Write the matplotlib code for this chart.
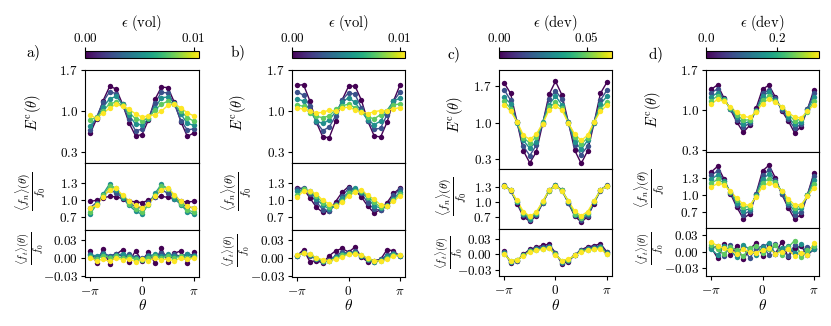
import numpy as np
import matplotlib
matplotlib.use("Agg")
import matplotlib.pyplot as plt
from matplotlib.colors import Normalize
from matplotlib.cm import ScalarMappable

plt.rcParams['mathtext.fontset'] = 'cm'
plt.rcParams['font.family'] = 'serif'
plt.rcParams['font.serif'] = ['DejaVu Serif']
plt.rcParams['axes.linewidth'] = 0.8

# ---------------- data ----------------
theta_deg = [-180, -157.5, -135, -112.5, -90, -67.5, -45, -22.5, 0,
             22.5, 45, 67.5, 90, 112.5, 135, 157.5, 180]

eps_a = [0.0, 0.0026, 0.0052, 0.0079, 0.0105]
eps_b = [0.0, 0.0026, 0.0052, 0.0079, 0.0105]
eps_c = [0.0, 0.016, 0.032, 0.048, 0.0644]
eps_d = [0.0, 0.08, 0.16, 0.24, 0.319]

a_E = [
    [0.62, 0.87, 1.18, 1.42, 1.38, 1.12, 0.80, 0.58, 0.60, 0.85, 1.20, 1.41, 1.40, 1.15, 0.82, 0.57, 0.63],
    [0.68, 0.90, 1.16, 1.33, 1.30, 1.10, 0.86, 0.67, 0.69, 0.88, 1.14, 1.32, 1.31, 1.12, 0.84, 0.68, 0.70],
    [0.75, 0.88, 1.07, 1.21, 1.25, 1.12, 0.93, 0.78, 0.77, 0.86, 1.05, 1.23, 1.24, 1.14, 0.95, 0.79, 0.76],
    [0.85, 0.90, 1.00, 1.13, 1.15, 1.10, 0.98, 0.87, 0.84, 0.88, 1.02, 1.12, 1.17, 1.12, 1.00, 0.89, 0.83],
    [0.93, 0.88, 0.97, 1.05, 1.12, 1.08, 1.04, 0.95, 0.90, 0.92, 0.94, 1.00, 1.10, 1.12, 1.06, 0.97, 0.92],
]
a_n = [
    [0.97, 0.99, 1.03, 1.06, 1.05, 1.02, 0.98, 0.96, 0.95, 0.99, 1.04, 1.06, 1.04, 1.02, 0.97, 0.96, 0.97],
    [0.86, 0.95, 1.06, 1.17, 1.12, 1.03, 0.94, 0.88, 0.85, 0.96, 1.05, 1.18, 1.11, 1.04, 0.93, 0.87, 0.86],
    [0.75, 0.92, 1.10, 1.28, 1.18, 1.03, 0.90, 0.80, 0.74, 0.93, 1.11, 1.27, 1.19, 1.02, 0.91, 0.79, 0.74],
    [0.78, 0.92, 1.08, 1.24, 1.20, 1.06, 0.93, 0.83, 0.79, 0.91, 1.09, 1.25, 1.19, 1.07, 0.92, 0.82, 0.78],
    [0.86, 0.90, 1.05, 1.18, 1.20, 1.08, 0.98, 0.90, 0.86, 0.92, 1.06, 1.17, 1.21, 1.09, 0.97, 0.89, 0.85],
]
a_t = [
    [0.012, -0.008, 0.015, -0.010, 0.006, 0.014, -0.006, 0.012, -0.004, 0.010, -0.008, 0.016, -0.006, 0.008, 0.012, -0.008, 0.010],
    [0.006, 0.002, 0.008, 0.004, 0.007, 0.003, 0.006, 0.002, 0.000, 0.005, 0.002, 0.008, 0.004, 0.006, 0.003, 0.007, 0.005],
    [0.005, 0.004, 0.006, 0.002, 0.005, 0.007, 0.003, 0.001, -0.002, 0.004, 0.006, 0.003, 0.006, 0.004, 0.002, 0.006, 0.004],
    [0.002, -0.001, 0.004, 0.001, 0.003, 0.000, 0.002, -0.002, -0.003, 0.001, 0.003, 0.000, 0.004, 0.001, 0.003, 0.000, 0.002],
    [0.000, -0.004, -0.002, -0.005, 0.001, -0.003, -0.001, -0.006, -0.002, -0.004, 0.000, -0.003, -0.001, -0.005, 0.001, -0.002, 0.000],
]

b_E = [
    [1.44, 1.45, 1.17, 0.81, 0.56, 0.55, 0.83, 1.19, 1.42, 1.43, 1.19, 0.83, 0.58, 0.56, 0.81, 1.17, 1.44],
    [1.33, 1.27, 1.08, 0.81, 0.67, 0.73, 0.92, 1.19, 1.31, 1.29, 1.06, 0.83, 0.69, 0.71, 0.94, 1.17, 1.32],
    [1.21, 1.17, 1.01, 0.83, 0.79, 0.85, 0.99, 1.15, 1.23, 1.15, 1.00, 0.85, 0.77, 0.83, 1.01, 1.17, 1.22],
    [1.11, 1.08, 0.97, 0.91, 0.89, 0.92, 1.03, 1.09, 1.12, 1.06, 0.99, 0.90, 0.87, 0.94, 1.01, 1.11, 1.12],
    [1.06, 1.03, 1.00, 0.97, 0.98, 1.02, 1.00, 1.05, 1.07, 1.02, 0.99, 0.96, 0.99, 1.01, 1.01, 1.04, 1.06],
]
b_n = [
    [1.21, 1.19, 1.03, 0.87, 0.78, 0.81, 0.97, 1.13, 1.23, 1.17, 1.05, 0.89, 0.77, 0.83, 0.95, 1.11, 1.20],
    [1.18, 1.21, 1.10, 0.96, 0.83, 0.81, 0.92, 1.06, 1.20, 1.19, 1.12, 0.94, 0.84, 0.82, 0.90, 1.08, 1.18],
    [1.15, 1.18, 1.15, 1.01, 0.91, 0.84, 0.89, 1.03, 1.13, 1.20, 1.13, 1.03, 0.89, 0.86, 0.91, 1.01, 1.14],
    [1.09, 1.18, 1.14, 1.07, 0.94, 0.88, 0.91, 0.98, 1.11, 1.16, 1.16, 1.05, 0.96, 0.87, 0.89, 1.00, 1.10],
    [1.05, 1.15, 1.15, 1.10, 0.99, 0.93, 0.89, 0.96, 1.07, 1.13, 1.17, 1.08, 1.01, 0.91, 0.90, 0.98, 1.06],
]
b_t = [
    [0.004, 0.014, -0.006, -0.004, -0.008, 0.004, 0.012, 0.016, 0.010, 0.018, 0.002, -0.006, -0.004, -0.002, 0.014, 0.012, 0.003],
    [0.003, 0.010, 0.004, -0.002, -0.006, -0.003, 0.004, 0.010, 0.008, 0.011, 0.003, -0.003, -0.007, -0.002, 0.005, 0.009, 0.004],
    [0.004, 0.009, 0.005, -0.001, -0.005, -0.004, 0.002, 0.007, 0.008, 0.009, 0.004, -0.002, -0.006, -0.003, 0.003, 0.007, 0.004],
    [0.005, 0.008, 0.006, 0.000, -0.004, -0.005, 0.000, 0.005, 0.007, 0.008, 0.005, -0.001, -0.005, -0.004, 0.001, 0.005, 0.005],
    [0.005, 0.008, 0.006, 0.001, -0.003, -0.004, -0.002, 0.002, 0.006, 0.007, 0.005, 0.000, -0.004, -0.005, -0.001, 0.003, 0.005],
]

c_E = [
    [1.76, 1.56, 1.02, 0.46, 0.23, 0.44, 0.98, 1.54, 1.79, 1.53, 1.01, 0.47, 0.22, 0.46, 0.99, 1.56, 1.77],
    [1.63, 1.43, 1.01, 0.55, 0.37, 0.57, 0.99, 1.45, 1.61, 1.45, 0.99, 0.57, 0.39, 0.55, 1.01, 1.43, 1.62],
    [1.49, 1.36, 0.99, 0.66, 0.51, 0.64, 1.01, 1.34, 1.51, 1.34, 1.01, 0.64, 0.49, 0.66, 0.99, 1.36, 1.50],
    [1.41, 1.27, 1.01, 0.71, 0.61, 0.73, 0.99, 1.29, 1.39, 1.28, 1.00, 0.73, 0.59, 0.71, 1.01, 1.27, 1.40],
    [1.34, 1.22, 1.02, 0.76, 0.68, 0.78, 0.98, 1.24, 1.32, 1.24, 0.99, 0.78, 0.66, 0.76, 1.01, 1.22, 1.33],
]
c_n = [
    [1.32, 1.24, 0.97, 0.71, 0.62, 0.73, 0.98, 1.22, 1.33, 1.23, 0.98, 0.72, 0.61, 0.71, 0.97, 1.24, 1.32],
    [1.33, 1.22, 0.99, 0.74, 0.64, 0.75, 0.98, 1.23, 1.32, 1.24, 0.98, 0.75, 0.65, 0.73, 0.99, 1.22, 1.33],
    [1.32, 1.23, 1.00, 0.76, 0.67, 0.77, 0.99, 1.24, 1.33, 1.22, 1.00, 0.75, 0.68, 0.76, 0.99, 1.23, 1.32],
    [1.32, 1.24, 1.01, 0.78, 0.70, 0.79, 1.00, 1.22, 1.31, 1.23, 1.02, 0.77, 0.69, 0.78, 1.01, 1.24, 1.31],
    [1.31, 1.23, 1.03, 0.81, 0.72, 0.80, 1.01, 1.23, 1.32, 1.22, 1.02, 0.82, 0.73, 0.81, 1.02, 1.23, 1.31],
]
c_t = [
    [0.006, -0.016, -0.012, 0.000, 0.010, 0.014, 0.018, 0.020, 0.003, -0.018, -0.014, -0.001, 0.009, 0.015, 0.017, 0.021, 0.005],
    [0.004, -0.015, -0.012, -0.001, 0.008, 0.012, 0.015, 0.017, 0.002, -0.016, -0.012, -0.001, 0.008, 0.012, 0.015, 0.017, 0.004],
    [0.002, -0.014, -0.011, -0.002, 0.007, 0.010, 0.013, 0.015, 0.001, -0.014, -0.011, -0.002, 0.007, 0.011, 0.013, 0.015, 0.002],
    [0.001, -0.013, -0.011, -0.002, 0.006, 0.009, 0.011, 0.013, 0.000, -0.013, -0.010, -0.002, 0.006, 0.009, 0.011, 0.013, 0.001],
    [0.000, -0.012, -0.010, -0.003, 0.005, 0.008, 0.010, 0.012, -0.001, -0.012, -0.009, -0.002, 0.005, 0.008, 0.010, 0.011, 0.000],
]

d_E = [
    [1.36, 1.44, 1.21, 1.01, 0.79, 0.61, 0.73, 1.03, 1.37, 1.43, 1.23, 0.99, 0.81, 0.60, 0.71, 1.01, 1.35],
    [1.30, 1.37, 1.19, 1.02, 0.83, 0.70, 0.77, 1.00, 1.29, 1.35, 1.21, 1.00, 0.85, 0.68, 0.75, 1.02, 1.29],
    [1.23, 1.30, 1.19, 1.02, 0.88, 0.76, 0.80, 0.99, 1.24, 1.32, 1.18, 1.03, 0.87, 0.75, 0.79, 1.00, 1.22],
    [1.16, 1.25, 1.17, 1.04, 0.92, 0.82, 0.83, 0.98, 1.17, 1.24, 1.16, 1.05, 0.93, 0.81, 0.84, 0.97, 1.15],
    [1.10, 1.19, 1.15, 1.05, 0.96, 0.89, 0.87, 0.97, 1.11, 1.20, 1.14, 1.06, 0.95, 0.88, 0.86, 0.98, 1.09],
]
d_n = [
    [1.40, 1.50, 1.28, 1.02, 0.78, 0.58, 0.66, 1.02, 1.42, 1.52, 1.30, 1.01, 0.77, 0.57, 0.65, 1.00, 1.38],
    [1.34, 1.42, 1.25, 1.03, 0.82, 0.65, 0.71, 1.01, 1.35, 1.43, 1.26, 1.02, 0.81, 0.64, 0.70, 1.00, 1.33],
    [1.27, 1.35, 1.24, 1.04, 0.86, 0.72, 0.75, 1.00, 1.28, 1.36, 1.23, 1.05, 0.85, 0.71, 0.76, 0.99, 1.26],
    [1.20, 1.27, 1.21, 1.05, 0.90, 0.78, 0.79, 0.98, 1.21, 1.28, 1.22, 1.06, 0.89, 0.77, 0.80, 0.99, 1.19],
    [1.13, 1.20, 1.18, 1.06, 0.94, 0.83, 0.81, 0.96, 1.14, 1.21, 1.17, 1.07, 0.93, 0.82, 0.82, 0.97, 1.12],
]
d_t = [
    [0.008, -0.012, 0.014, -0.006, 0.010, -0.014, 0.004, 0.016, -0.008, 0.012, -0.004, 0.018, -0.010, 0.006, 0.010, -0.006, 0.004],
    [0.006, 0.010, -0.008, 0.012, -0.004, 0.008, -0.012, 0.006, 0.010, -0.006, 0.014, 0.002, -0.008, 0.012, -0.004, 0.008, 0.006],
    [0.004, -0.006, 0.010, 0.002, -0.010, 0.012, 0.004, -0.006, 0.008, 0.016, -0.004, 0.006, 0.010, -0.002, 0.014, -0.004, 0.004],
    [0.012, 0.004, -0.004, 0.008, 0.002, -0.008, 0.006, 0.010, -0.002, 0.004, 0.012, -0.006, 0.008, 0.020, -0.010, 0.002, 0.010],
    [0.018, 0.010, 0.006, 0.002, -0.004, 0.004, 0.000, -0.002, 0.002, 0.006, -0.004, 0.000, 0.004, -0.008, -0.002, -0.006, 0.016],
]

# ---------------- layout ----------------
W, H = 831, 326
fig = plt.figure(figsize=(W / 100, H / 100), dpi=100)


def px_axes(x0, y0, x1, y1):
    return fig.add_axes([x0 / W, 1 - y1 / H, (x1 - x0) / W, (y1 - y0) / H])


def ftext(x, y, s, **kw):
    fig.text(x / W, 1 - y / H, s, **kw)


theta = np.deg2rad(theta_deg)

panels = [
    dict(letter='a)', x0=85, x1=199, rows=[(70, 163), (163, 230), (230, 276.5)],
         ylims=[(0.118, 1.7), (0.465, 1.648), (-0.0302, 0.0463)],
         data=[a_E, a_n, a_t], eps=eps_a, vmax=0.0105,
         cbt=[0, 0.01], cbl=['0.00', '0.01'], cbtitle=r'$\epsilon\ \mathrm{(vol)}$',
         ylab=[(33, 113), (31, 191), (30, 248)], let=(33, 53)),
    dict(letter='b)', x0=292, x1=405, rows=[(70, 163), (163, 230), (230, 276.5)],
         ylims=[(0.118, 1.7), (0.475, 1.64), (-0.0302, 0.0463)],
         data=[b_E, b_n, b_t], eps=eps_b, vmax=0.0105,
         cbt=[0, 0.01], cbl=['0.00', '0.01'], cbtitle=r'$\epsilon\ \mathrm{(vol)}$',
         ylab=[(238, 113), (237, 191), (236, 250)], let=(237, 53)),
    dict(letter='c)', x0=499, x1=612, rows=[(70, 169.3), (169.3, 229), (229, 275.5)],
         ylims=[(0.109, 2.006), (0.47, 1.641), (-0.0413, 0.0498)],
         data=[c_E, c_n, c_t], eps=eps_c, vmax=0.0644,
         cbt=[0, 0.05], cbl=['0.00', '0.05'], cbtitle=r'$\epsilon\ \mathrm{(dev)}$',
         ylab=[(455, 115), (452, 196), (449, 252)], let=(454, 55)),
    dict(letter='d)', x0=706, x1=819, rows=[(70, 152.3), (152.3, 227.7), (227.7, 275.5)],
         ylims=[(0.26, 1.7), (0.418, 1.748), (-0.0434, 0.0434)],
         data=[d_E, d_n, d_t], eps=eps_d, vmax=0.319,
         cbt=[0, 0.2], cbl=['0.0', '0.2'], cbtitle=r'$\epsilon\ \mathrm{(dev)}$',
         ylab=[(653, 110), (650, 188), (650, 248)], let=(655, 55)),
]

yticks = [[0.3, 1.0, 1.7], [0.7, 1.0, 1.3], [-0.03, 0.0, 0.03]]
yticklabels = [[r'$0.3$', r'$1.0$', r'$1.7$'], [r'$0.7$', r'$1.0$', r'$1.3$'],
               [r'$-0.03$', r'$0.00$', r'$0.03$']]
ylabels = [r'$E^{\mathrm{c}}(\theta)$',
           r'$\dfrac{\langle f_n\rangle(\theta)}{f_0}$',
           r'$\dfrac{\langle f_t\rangle(\theta)}{f_0}$']
ylabel_sizes = [10.5, 8.5, 7.5]

cmap = plt.get_cmap('viridis')
tick_fs = 9.5

for p in panels:
    norm = Normalize(0, p['vmax'])
    for r in range(3):
        y0, y1 = p['rows'][r]
        ax = px_axes(p['x0'], y0, p['x1'], y1)
        vals = p['data'][r]
        for i, e in enumerate(p['eps']):
            col = cmap(norm(e))
            ax.plot(theta, vals[i], color=col, lw=1.0, zorder=2 + i * 0.1)
            ax.scatter(theta, vals[i], s=15, color=col, linewidths=0, zorder=3 + i * 0.1)
        ax.set_xlim(-np.pi - 0.314, np.pi + 0.314)
        ax.set_ylim(*p['ylims'][r])
        ax.set_yticks(yticks[r])
        ax.set_yticklabels(yticklabels[r], fontsize=tick_fs)
        ax.tick_params(axis='y', length=3, width=0.8, pad=2)
        for sp in ax.spines.values():
            sp.set_linewidth(0.8)
        if r < 2:
            ax.set_xticks([])
        else:
            ax.set_xticks([-np.pi, 0, np.pi])
            ax.set_xticklabels([r'$-\pi$', r'$0$', r'$\pi$'], fontsize=tick_fs)
            ax.tick_params(axis='x', length=3, width=0.8, pad=3)
            ftext((p['x0'] + p['x1']) / 2, 305, r'$\theta$', ha='center', va='center', fontsize=11)
        lx, ly = p['ylab'][r]
        ftext(lx, ly, ylabels[r], rotation=90, ha='center', va='center', fontsize=ylabel_sizes[r])

    # colorbar
    cax = px_axes(p['x0'], 51, p['x1'], 57.5)
    sm = ScalarMappable(norm=norm, cmap=cmap)
    cb = fig.colorbar(sm, cax=cax, orientation='horizontal', ticklocation='top')
    cb.set_ticks(p['cbt'])
    cb.set_ticklabels([r'$%s$' % s for s in p['cbl']])
    cb.ax.tick_params(labelsize=tick_fs, length=3, width=0.8, pad=1.5)
    cb.outline.set_linewidth(0.8)
    ftext((p['x0'] + p['x1']) / 2, 23, p['cbtitle'], ha='center', va='center', fontsize=10.5)
    ftext(p['let'][0], p['let'][1], r'$\mathrm{%s}$' % p['letter'], ha='center', va='center', fontsize=11)

fig.savefig('out.png', dpi=100)
